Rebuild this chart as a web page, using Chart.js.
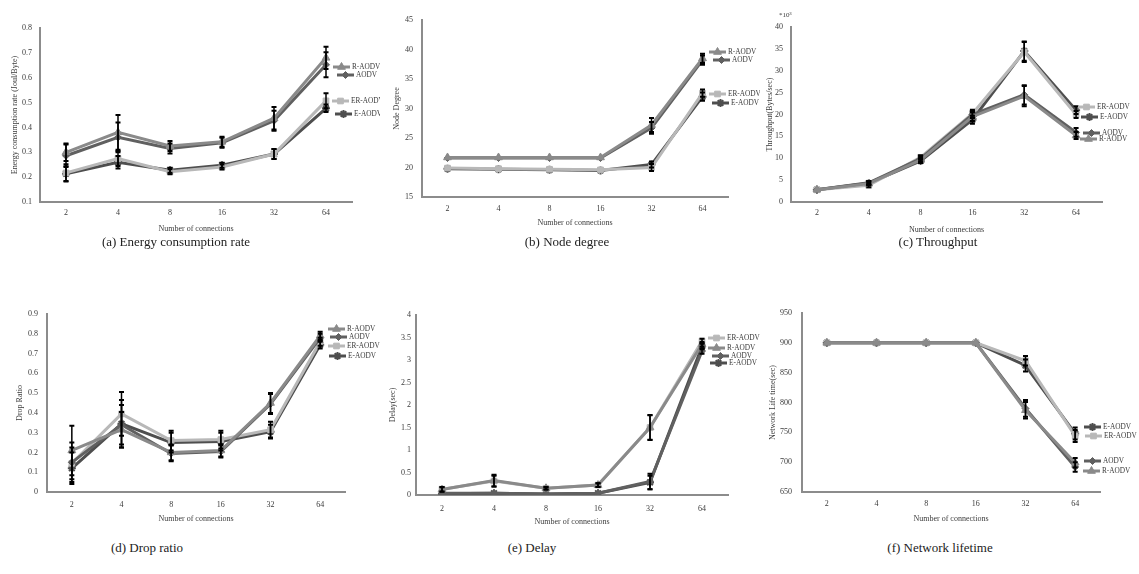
<!DOCTYPE html>
<html>
<head>
<meta charset="utf-8">
<script src="https://cdn.jsdelivr.net/npm/chart.js@4.4.1/dist/chart.umd.min.js"></script>
<style>
  body { margin: 0; background: #fff; width: 1139px; height: 574px; position: relative; overflow: hidden;
         font-family: "Liberation Serif", "Times New Roman", serif; }
  canvas { position: absolute; }
  .cap { position: absolute; font-size: 13px; color: #222; white-space: nowrap; transform: translate(-50%, -50%); }
</style>
</head>
<body>
<canvas id="chartA" width="380" height="236" style="left:0;top:0"></canvas>
<canvas id="chartB" width="380" height="236" style="left:380px;top:0"></canvas>
<canvas id="chartC" width="379" height="236" style="left:760px;top:0"></canvas>
<canvas id="chartD" width="380" height="240" style="left:0;top:288px"></canvas>
<canvas id="chartE" width="380" height="240" style="left:380px;top:288px"></canvas>
<canvas id="chartF" width="379" height="240" style="left:760px;top:288px"></canvas>

<div class="cap" style="left:176px;top:242px">(a) Energy consumption rate</div>
<div class="cap" style="left:567px;top:242px">(b) Node degree</div>
<div class="cap" style="left:938px;top:242px">(c) Throughput</div>
<div class="cap" style="left:147px;top:548px">(d) Drop ratio</div>
<div class="cap" style="left:532px;top:548px">(e) Delay</div>
<div class="cap" style="left:940px;top:548px">(f) Network lifetime</div>

<script>
// Data
const connections = ["2", "4", "8", "16", "32", "64"];

// (a) energy consumption rate (Joul/Byte)
const energyR  = [0.300, 0.380, 0.325, 0.342, 0.437, 0.680];
const energyA  = [0.286, 0.360, 0.315, 0.338, 0.427, 0.652];
const energyER = [0.217, 0.275, 0.222, 0.241, 0.293, 0.507];
const energyE  = [0.214, 0.260, 0.228, 0.248, 0.293, 0.477];
const energyRErr  = [0.035, 0.070, 0.020, 0.020, 0.045, 0.045];
const energyAErr  = [0.045, 0.060, 0.020, 0.020, 0.040, 0.050];
const energyERErr = [0.035, 0.030, 0.010, 0.010, 0.020, 0.030];
const energyEErr  = [0.030, 0.025, 0.010, 0.010, 0.020, 0.015];

// (b) node degree
const degreeR  = [21.7, 21.7, 21.7, 21.7, 27.2, 38.5];
const degreeA  = [21.6, 21.6, 21.6, 21.6, 26.7, 38.2];
const degreeER = [19.9, 19.8, 19.7, 19.6, 20.0, 32.6];
const degreeE  = [19.8, 19.7, 19.6, 19.5, 20.5, 32.0];
const degreeRErr  = [0, 0, 0, 0, 1.2, 0.8];
const degreeAErr  = [0, 0, 0, 0, 1.0, 0.8];
const degreeERErr = [0, 0, 0, 0, 0.6, 0.6];
const degreeEErr  = [0, 0, 0, 0, 0.5, 0.7];

// (c) throughput (*10^3 Bytes/sec)
const tputR  = [2.8, 4.2, 9.6, 19.5, 24.2, 15.2];
const tputA  = [2.8, 4.4, 9.9, 20.0, 24.5, 15.9];
const tputER = [2.8, 3.8, 10.2, 20.2, 34.3, 20.0];
const tputE  = [2.8, 4.3, 9.4, 18.8, 34.5, 21.0];
const tputRErr  = [0, 0.3, 0.5, 1.0, 2.3, 0.8];
const tputAErr  = [0, 0.4, 0.6, 0.8, 2.2, 1.0];
const tputERErr = [0, 0.4, 0.5, 0.9, 2.3, 0.8];
const tputEErr  = [0, 0.4, 0.5, 0.9, 2.2, 0.9];

// (d) drop ratio
const dropR  = [0.210, 0.315, 0.200, 0.210, 0.450, 0.790];
const dropA  = [0.150, 0.340, 0.195, 0.205, 0.445, 0.780];
const dropER = [0.145, 0.395, 0.260, 0.265, 0.315, 0.760];
const dropE  = [0.120, 0.345, 0.250, 0.255, 0.305, 0.745];
const dropRErr  = [0.125, 0.090, 0.040, 0.030, 0.050, 0.020];
const dropAErr  = [0.100, 0.100, 0.040, 0.030, 0.050, 0.020];
const dropERErr = [0.080, 0.110, 0.050, 0.045, 0.040, 0.020];
const dropEErr  = [0.080, 0.120, 0.050, 0.045, 0.035, 0.020];

// (e) delay (sec)
const delayR  = [0.12, 0.32, 0.15, 0.22, 1.50, 3.35];
const delayA  = [0.04, 0.04, 0.02, 0.04, 0.30, 3.20];
const delayER = [0.13, 0.31, 0.15, 0.22, 1.50, 3.42];
const delayE  = [0.03, 0.04, 0.02, 0.04, 0.28, 3.30];
const delayRErr  = [0.05, 0.13, 0.03, 0.04, 0.28, 0.05];
const delayAErr  = [0, 0, 0, 0, 0.17, 0.06];
const delayERErr = [0.05, 0.12, 0.03, 0.04, 0.27, 0.05];
const delayEErr  = [0, 0, 0, 0, 0.15, 0.06];

// (f) network lifetime (sec)
const lifeR  = [900, 900, 900, 900, 787, 699];
const lifeA  = [900, 900, 900, 900, 790, 692];
const lifeER = [900, 900, 900, 900, 870, 744];
const lifeE  = [900, 900, 900, 900, 862, 748];
const lifeRErr  = [0, 0, 0, 0, 14, 8];
const lifeAErr  = [0, 0, 0, 0, 14, 8];
const lifeERErr = [0, 0, 0, 0, 8, 10];
const lifeEErr  = [0, 0, 0, 0, 10, 10];

// Styles
const FONT = '"Liberation Serif", "Times New Roman", serif';
const axisColor = "#8c8c8c";
const textColor = "#3a3a3a";
const styles = {
  "R-AODV":  { color: "#8a8a8a", marker: "triangle", r: 4.5 },
  "AODV":    { color: "#606060", marker: "rectRot",  r: 3.5 },
  "ER-AODV": { color: "#b8b8b8", marker: "rect",     r: 4 },
  "E-AODV":  { color: "#4e4e4e", marker: "star",     r: 4 }
};

function series(label, data, errors) {
  const s = styles[label];
  return {
    label, data, errors,
    borderColor: s.color, backgroundColor: s.color,
    pointBackgroundColor: s.color, pointBorderColor: s.color,
    pointStyle: s.marker, pointRadius: s.r, pointBorderWidth: s.marker === "star" ? 2 : 1,
    borderWidth: 3, tension: 0
  };
}

// black error bars with caps
const errorBars = {
  id: "errorBars",
  afterDatasetsDraw(chart) {
    const ctx = chart.ctx;
    const y = chart.scales.y;
    chart.data.datasets.forEach((ds, i) => {
      if (!ds.errors) return;
      chart.getDatasetMeta(i).data.forEach((pt, j) => {
        const v = ds.data[j], e = ds.errors[j];
        if (!e) return;
        const top = y.getPixelForValue(v + e), bot = y.getPixelForValue(v - e);
        ctx.save();
        ctx.strokeStyle = "#000";
        ctx.lineWidth = 1.5;
        ctx.beginPath();
        ctx.moveTo(pt.x, top); ctx.lineTo(pt.x, bot);
        ctx.stroke();
        ctx.lineWidth = 2;
        ctx.beginPath();
        ctx.moveTo(pt.x - 2.5, top); ctx.lineTo(pt.x + 2.5, top);
        ctx.moveTo(pt.x - 2.5, bot); ctx.lineTo(pt.x + 2.5, bot);
        ctx.stroke();
        ctx.restore();
      });
    });
  }
};

// legend entries placed beside the line ends, like the original figure
const sideLegend = {
  id: "sideLegend",
  afterDraw(chart, args, opts) {
    const ctx = chart.ctx;
    (opts.entries || []).forEach(en => {
      const ds = chart.data.datasets.find(d => d.label === en.label);
      ctx.save();
      ctx.strokeStyle = ds.borderColor;
      ctx.lineWidth = 3;
      ctx.beginPath();
      ctx.moveTo(en.x, en.y); ctx.lineTo(en.x + 17, en.y);
      ctx.stroke();
      ctx.fillStyle = ds.pointBackgroundColor;
      ctx.lineWidth = ds.pointBorderWidth;
      if (Chart.helpers && Chart.helpers.drawPoint) {
        Chart.helpers.drawPoint(ctx, { pointStyle: ds.pointStyle, radius: ds.pointRadius, borderWidth: ds.pointBorderWidth, rotation: 0 }, en.x + 8.5, en.y);
      }
      ctx.fillStyle = textColor;
      ctx.font = "7.3px " + FONT;
      ctx.textBaseline = "middle";
      ctx.fillText(en.label, en.x + 19, en.y);
      ctx.restore();
    });
    if (opts.note) {
      ctx.save();
      ctx.fillStyle = textColor;
      ctx.font = "7px " + FONT;
      ctx.textBaseline = "middle";
      ctx.fillText(opts.note.text, opts.note.x, opts.note.y);
      ctx.restore();
    }
  }
};

function makeChart(id, cfg) {
  const font = { family: FONT, size: 8 };
  new Chart(document.getElementById(id), {
    type: "line",
    data: { labels: connections, datasets: cfg.datasets },
    options: {
      responsive: false,
      animation: false,
      layout: { padding: cfg.pad },
      plugins: {
        legend: { display: false },
        tooltip: { enabled: false },
        sideLegend: { entries: cfg.legend, note: cfg.note }
      },
      scales: {
        x: {
          offset: true,
          grid: { display: true, drawOnChartArea: false, drawTicks: false },
          border: { color: axisColor, width: 2 },
          ticks: { padding: cfg.xTickPad, color: textColor, font, maxRotation: 0 },
          title: { display: true, text: "Number of connections", padding: 0, color: textColor, font },
          afterFit: s => { s.height = cfg.xH; }
        },
        y: {
          min: cfg.yMin, max: cfg.yMax,
          grid: { display: true, drawOnChartArea: false, drawTicks: false },
          border: { color: axisColor, width: 2 },
          ticks: {
            stepSize: cfg.yStep, padding: cfg.yTickPad, color: textColor, font,
            callback: v => String(Number(v.toFixed(3)))
          },
          title: { display: true, text: cfg.yTitle, padding: 0, color: textColor, font },
          afterFit: s => { s.width = cfg.yW; }
        }
      }
    },
    plugins: [errorBars, sideLegend]
  });
}

makeChart("chartA", {
  datasets: [
    series("R-AODV", energyR, energyRErr), series("AODV", energyA, energyAErr),
    series("ER-AODV", energyER, energyERErr), series("E-AODV", energyE, energyEErr)
  ],
  yMin: 0.1, yMax: 0.8, yStep: 0.1, yTitle: "Energy consumption rate (Joul/Byte)",
  pad: { left: 10.2, top: 28, right: 28, bottom: 2.2 }, yW: 29.8, xH: 31.8, xTickPad: 6, yTickPad: 8,
  legend: [
    { label: "R-AODV", x: 333, y: 67 }, { label: "AODV", x: 337, y: 75 },
    { label: "ER-AODV", x: 332, y: 101 }, { label: "E-AODV", x: 335, y: 114 }
  ]
});

makeChart("chartB", {
  datasets: [
    series("R-AODV", degreeR, degreeRErr), series("AODV", degreeA, degreeAErr),
    series("ER-AODV", degreeER, degreeERErr), series("E-AODV", degreeE, degreeEErr)
  ],
  yMin: 15, yMax: 45, yStep: 5, yTitle: "Node Degree",
  pad: { left: 12.2, top: 20, right: 32, bottom: 8.2 }, yW: 29.8, xH: 30.8, xTickPad: 7, yTickPad: 9,
  legend: [
    { label: "R-AODV", x: 329, y: 52 }, { label: "AODV", x: 333, y: 60 },
    { label: "ER-AODV", x: 329, y: 94 }, { label: "E-AODV", x: 332, y: 103 }
  ]
});

makeChart("chartC", {
  datasets: [
    series("R-AODV", tputR, tputRErr), series("AODV", tputA, tputAErr),
    series("ER-AODV", tputER, tputERErr), series("E-AODV", tputE, tputEErr)
  ],
  yMin: 0, yMax: 40, yStep: 5, yTitle: "Throughput(Bytes/sec)",
  pad: { left: 5.2, top: 27, right: 37, bottom: 1.2 }, yW: 25.8, xH: 32.8, xTickPad: 6, yTickPad: 8,
  note: { text: "*10\u00B3", x: 19, y: 15 },
  legend: [
    { label: "ER-AODV", x: 318, y: 107 }, { label: "E-AODV", x: 321, y: 117 },
    { label: "AODV", x: 323, y: 133 }, { label: "R-AODV", x: 320, y: 139 }
  ]
});

makeChart("chartD", {
  datasets: [
    series("R-AODV", dropR, dropRErr), series("AODV", dropA, dropAErr),
    series("ER-AODV", dropER, dropERErr), series("E-AODV", dropE, dropEErr)
  ],
  yMin: 0, yMax: 0.9, yStep: 0.1, yTitle: "Drop Ratio",
  pad: { left: 15.2, top: 26, right: 35, bottom: 4.2 }, yW: 31.8, xH: 31.8, xTickPad: 8, yTickPad: 9,
  legend: [
    { label: "R-AODV", x: 328, y: 41 }, { label: "AODV", x: 330, y: 49 },
    { label: "ER-AODV", x: 328, y: 58 }, { label: "E-AODV", x: 329, y: 68 }
  ]
});

makeChart("chartE", {
  datasets: [
    series("R-AODV", delayR, delayRErr), series("AODV", delayA, delayAErr),
    series("ER-AODV", delayER, delayERErr), series("E-AODV", delayE, delayEErr)
  ],
  yMin: 0, yMax: 4, yStep: 0.5, yTitle: "Delay(sec)",
  pad: { left: 8.2, top: 27, right: 32, bottom: 1.2 }, yW: 27.8, xH: 31.8, xTickPad: 9, yTickPad: 5,
  legend: [
    { label: "ER-AODV", x: 328, y: 50 }, { label: "R-AODV", x: 328, y: 60 },
    { label: "AODV", x: 332, y: 68 }, { label: "E-AODV", x: 330, y: 75 }
  ]
});

makeChart("chartF", {
  datasets: [
    series("R-AODV", lifeR, lifeRErr), series("AODV", lifeA, lifeAErr),
    series("ER-AODV", lifeER, lifeERErr), series("E-AODV", lifeE, lifeEErr)
  ],
  yMin: 650, yMax: 950, yStep: 50, yTitle: "Network Life time(sec)",
  pad: { left: 8.2, top: 25, right: 39, bottom: 4.2 }, yW: 33.8, xH: 31.8, xTickPad: 7, yTickPad: 10,
  legend: [
    { label: "E-AODV", x: 324, y: 139 }, { label: "ER-AODV", x: 325, y: 148 },
    { label: "AODV", x: 324, y: 173 }, { label: "R-AODV", x: 323, y: 183 }
  ]
});
</script>
</body>
</html>
